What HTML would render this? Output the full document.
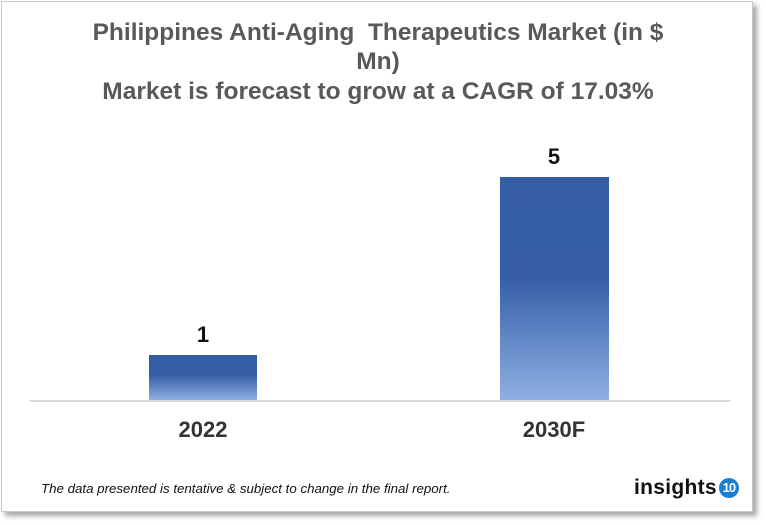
<!DOCTYPE html>
<html><head><style>
body{margin:0;width:766px;height:525px;background:#fff;position:relative;font-family:"Liberation Sans",Arial,sans-serif;overflow:hidden}
.frame{position:absolute;left:1px;top:1px;width:750px;height:509px;border:1px solid #c8c8c8;box-shadow:4px 4px 5px rgba(0,0,0,0.35);background:#fff}
.t{position:absolute;left:2px;width:752px;text-align:center;font-weight:bold;color:#595959;font-size:24.5px}
.bar{position:absolute;background:linear-gradient(to bottom,#345da6 0%,#355ea7 45%,#8fb0e4 100%)}
.lab{position:absolute;font-weight:bold;font-size:22px;color:#111;text-align:center;width:120px}
</style></head><body>
<div class="frame"></div>
<div class="t" style="top:19px">Philippines Anti-Aging&nbsp; Therapeutics Market (in $</div>
<div class="t" style="top:48px">Mn)</div>
<div class="t" style="top:78px">Market is forecast to grow at a CAGR of 17.03%</div>
<div class="bar" style="left:149px;top:355px;width:108px;height:45px"></div>
<div class="bar" style="left:500px;top:177px;width:109px;height:223px"></div>
<div style="position:absolute;left:30px;top:400px;width:700px;height:2px;background:#d9d9d9"></div>
<div class="lab" style="left:143px;top:322px">1</div>
<div class="lab" style="left:494px;top:144px">5</div>
<div class="lab" style="left:143px;top:417px;color:#333">2022</div>
<div class="lab" style="left:494px;top:417px;color:#333">2030F</div>
<div style="position:absolute;left:41px;top:481px;font-size:13.3px;font-style:italic;color:#111">The data presented is tentative &amp; subject to change in the final report.</div>
<div style="position:absolute;left:634px;top:476px;font-size:21px;font-weight:bold;color:#111;letter-spacing:0.3px">insights<span style="display:inline-block;width:20px;height:20px;border-radius:50%;background:#1a7fd0;color:#fff;font-size:13px;line-height:20px;text-align:center;vertical-align:2px;margin-left:2px;letter-spacing:-1px">10</span></div>
</body></html>
